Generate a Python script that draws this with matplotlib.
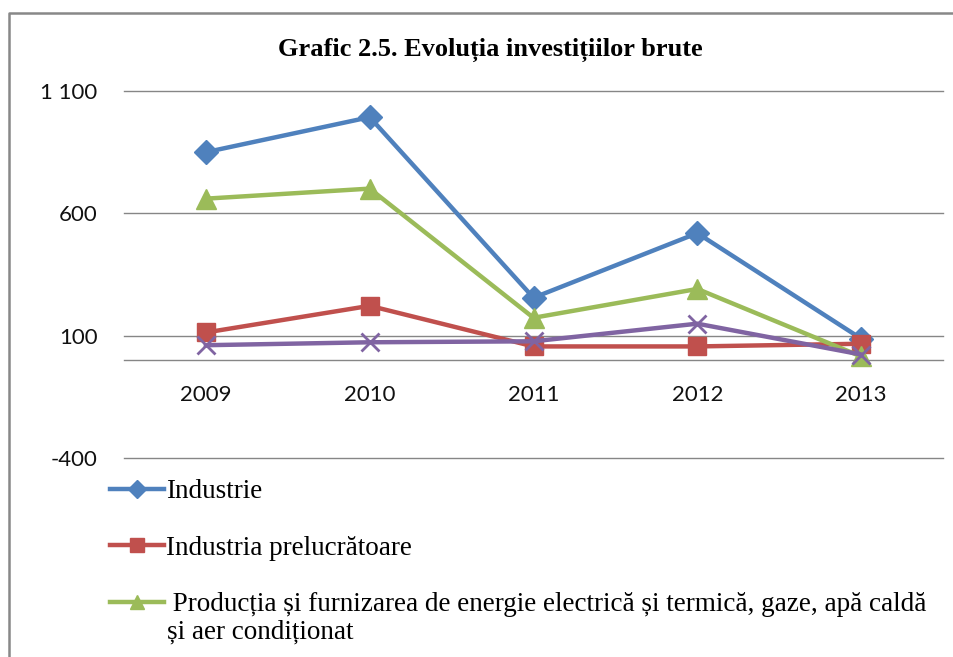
import matplotlib
matplotlib.use("Agg")
import matplotlib.pyplot as plt
from matplotlib.lines import Line2D

# investitii brute, pe ani
years = ["2009", "2010", "2011", "2012", "2013"]
industrie = [850, 993, 255, 519, 88]
prelucratoare = [113, 222, 56, 56, 67]
energie = [660, 701, 173, 291, 15]
alta_serie = [61, 73, 77, 149, 23]

labels = ["Industrie",
          "Industria prelucrătoare",
          " Producția și furnizarea de energie electrică și termică, gaze, apă caldă"]
label_cont = "și aer condiționat"
yticks = [-400, 100, 600, 1100]
title = "Grafic 2.5. Evoluția investițiilor brute"

fig = plt.figure(figsize=(9.54, 6.57), dpi=100)
ax = fig.add_axes([124/954., 1-458/657., (943-124)/954., (458-91)/657.])

xs = list(range(len(years)))
grid_col = "#868686"
ax.set_xlim(-0.5, len(years)-0.5)
ax.set_ylim(-400, 1100)
ax.set_yticks(yticks)
ax.set_yticklabels(["{:,}".format(v).replace(",", " ") for v in yticks],
                   fontfamily="Lato", fontsize=16, color="#111111")
ax.tick_params(axis="y", length=0, pad=19)
ax.set_xticks([])
for s in ax.spines.values():
    s.set_visible(False)
for v in yticks + [0]:
    ax.axhline(v, color=grid_col, lw=1.0, zorder=1, clip_on=False)

# etichete ani sub axa 0
for i, yr in enumerate(years):
    ax.annotate(yr, xy=(i, 0), xytext=(0, -35), textcoords="offset pixels",
                ha="center", va="center", fontfamily="Lato", fontsize=16, color="#111111")

l1, = ax.plot(xs, industrie, color="#4F81BD", lw=3.2, marker="D", ms=12, zorder=3)
l2, = ax.plot(xs, prelucratoare, color="#C0504D", lw=3.2, marker="s", ms=13, zorder=4)
l3, = ax.plot(xs, energie, color="#9BBB59", lw=3.2, marker="^", ms=14, zorder=5)
l4, = ax.plot(xs, alta_serie, color="#8064A2", lw=3.2, marker="x", ms=13, mew=2, zorder=6)

fig.text(490/954., 1-50/657., title, ha="center", va="center",
         fontfamily="Liberation Serif", fontweight="bold", fontsize=19)

leg = ax.legend([l1, l2, l3], labels, loc="upper left",
                bbox_to_anchor=(110/954., 1-479/657.), bbox_transform=fig.transFigure,
                frameon=False, borderpad=0, borderaxespad=0, handlelength=2.0,
                handletextpad=0.08, labelspacing=1.17, markerscale=0.75,
                prop={"family": "Liberation Serif", "size": 19.5})
fig.text(167/954., 1-632/657., label_cont, ha="left", va="center",
         fontfamily="Liberation Serif", fontsize=19.5)

# chenar (doar sus si stanga vizibile)
fig.add_artist(Line2D([9/954., 9/954., 1.02], [-0.02, 1-13/657., 1-13/657.],
                      transform=fig.transFigure, color="#888888", lw=1.8))

fig.savefig("out.png", dpi=100)
